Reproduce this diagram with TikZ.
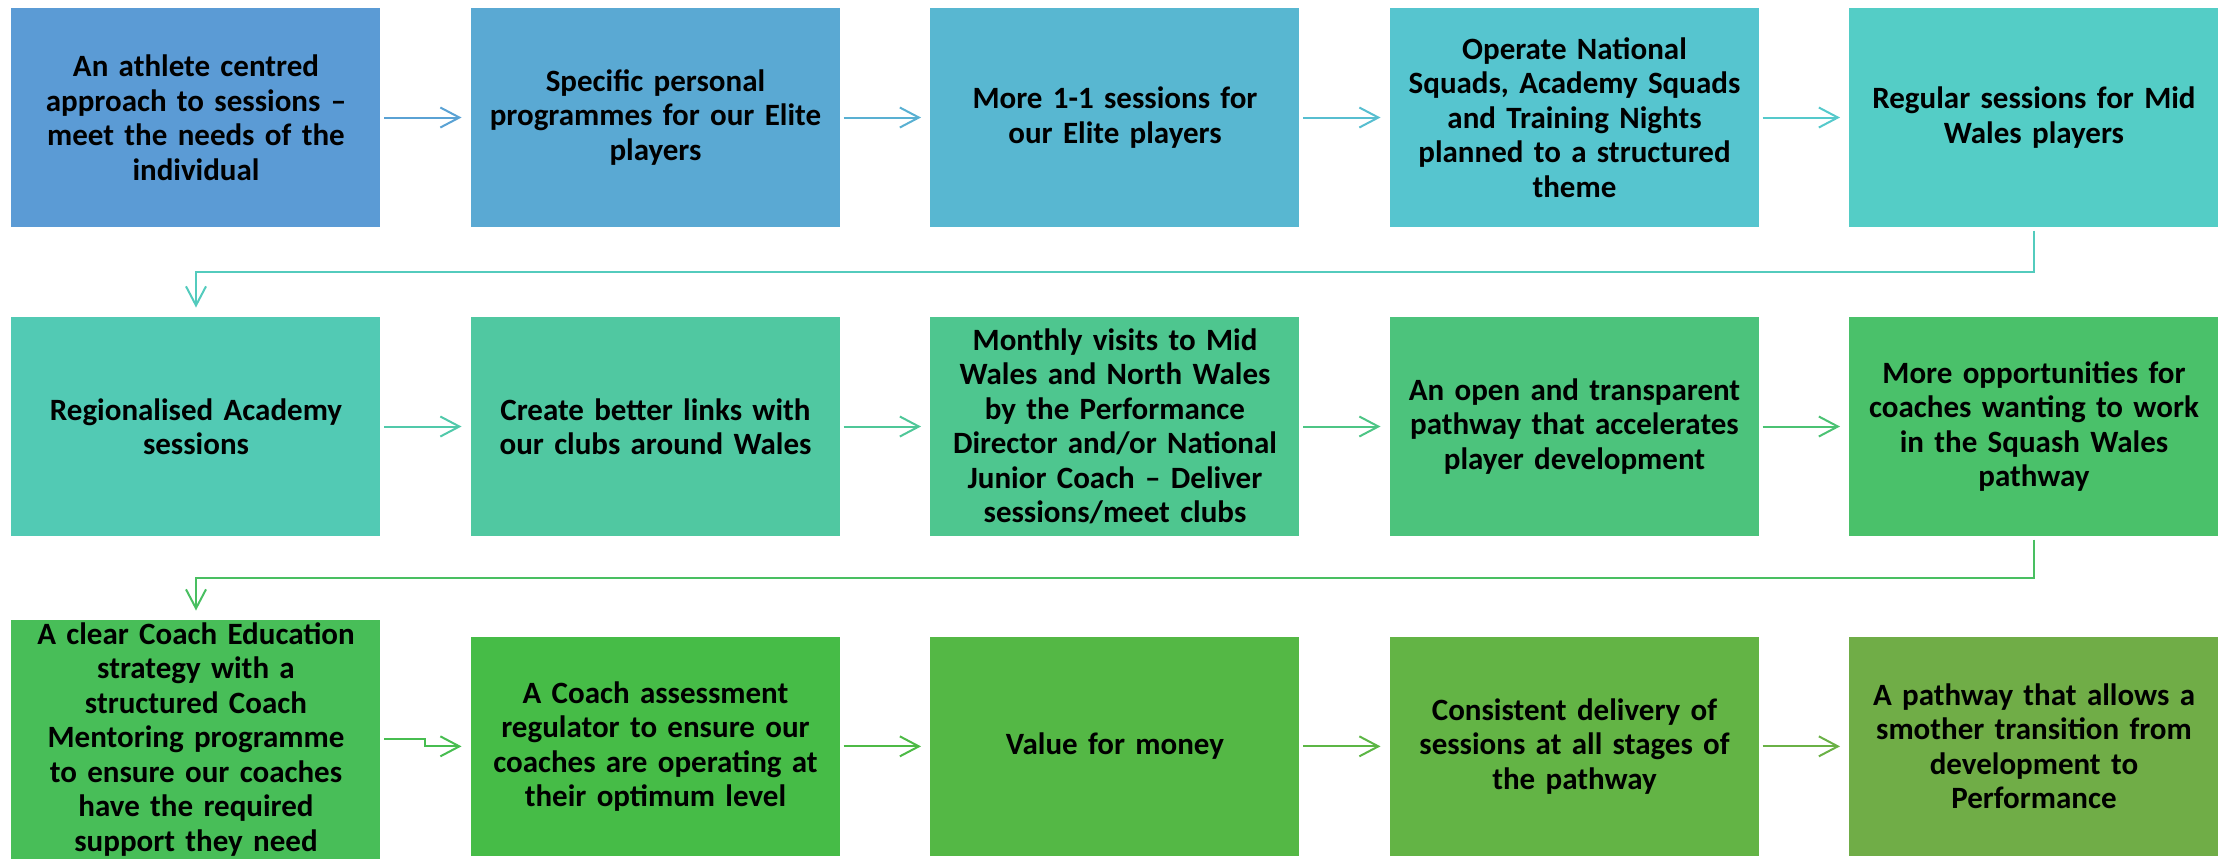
\documentclass[tikz,border=0pt]{standalone}
\usepackage{fontspec}
\setmainfont{Carlito}
\usepackage{tikz}
\usetikzlibrary{matrix,arrows.meta}
\newcommand*\boxwd {185pt}
\newcommand*\boxht {110pt}
\newcommand*\boxgap{44.25pt}
\definecolor{tone1}{HTML}{5B9BD5}
\definecolor{tone2}{HTML}{5AA9D3}
\definecolor{tone3}{HTML}{58B7D1}
\definecolor{tone4}{HTML}{56C5CF}
\definecolor{tone5}{HTML}{54CDC6}
\definecolor{tone6}{HTML}{52CAB4}
\definecolor{tone7}{HTML}{50C8A1}
\definecolor{tone8}{HTML}{4EC68F}
\definecolor{tone9}{HTML}{4CC37C}
\definecolor{tone10}{HTML}{4AC16A}
\definecolor{tone11}{HTML}{48BE58}
\definecolor{tone12}{HTML}{46BC47}
\definecolor{tone13}{HTML}{54B845}
\definecolor{tone14}{HTML}{63B445}
\definecolor{tone15}{HTML}{70AD47}
\tikzset{
    box/.style   = {rectangle, draw=white, line width=0.5pt,
                    minimum width=\boxwd, minimum height=\boxht,
                    text width=\boxwd-8pt, align=center,
                    inner xsep=4pt, inner ysep=1.5pt, anchor=center,
                    font=\fontsize{15.5pt}{17.25pt}\selectfont\bfseries},
    box1/.style  = {box,fill=tone1},
    box2/.style  = {box,fill=tone2},
    box3/.style  = {box,fill=tone3},
    box4/.style  = {box,fill=tone4},
    box5/.style  = {box,fill=tone5},
    box6/.style  = {box,fill=tone6},
    box7/.style  = {box,fill=tone7},
    box8/.style  = {box,fill=tone8},
    box9/.style  = {box,fill=tone9},
    box10/.style = {box,fill=tone10},
    box11/.style = {box,fill=tone11},
    box12/.style = {box,fill=tone12,yshift=-3.5pt},
    box13/.style = {box,fill=tone13,yshift=-3.5pt},
    box14/.style = {box,fill=tone14,yshift=-3.5pt},
    box15/.style = {box,fill=tone15,yshift=-3.5pt},
    flow/.style  = {line width=1pt, shorten <=1.5pt, shorten >=4.5pt,
                    -{Straight Barb[length=9.5pt,width=10pt]}},
    flowmatrix/.style = {
        matrix of nodes,
        inner sep=0pt, outer sep=0pt,
        nodes   = {box},
        column sep=\boxgap, row sep=44pt,
    },
  }
\begin{document}
\begin{tikzpicture}
    \useasboundingbox (0,0) rectangle (1109pt,-429.5pt);
    % the fifteen steps, five per row, named "plan"
    \matrix (plan) [flowmatrix, anchor=north west] at (5.25pt,-3.5pt) {
        % row 1
        |[box1]| {An athlete centred\\approach to sessions –\\meet the needs of the\\individual} &
        |[box2]| {Specific personal\\programmes for our Elite\\players} &
        |[box3]| {More 1-1 sessions for\\our Elite players} &
        |[box4]| {Operate National\\Squads, Academy Squads\\and Training Nights\\planned to a structured\\theme} &
        |[box5]| {Regular sessions for Mid\\Wales players} \\
        % row 2
        |[box6]| {Regionalised Academy\\sessions} &
        |[box7]| {Create better links with\\our clubs around Wales} &
        |[box8]| {Monthly visits to Mid\\Wales and North Wales\\by the Performance\\Director and/or National\\Junior Coach – Deliver\\sessions/meet clubs} &
        |[box9]| {An open and transparent\\pathway that accelerates\\player development} &
        |[box10]| {More opportunities for\\coaches wanting to work\\in the Squash Wales\\pathway} \\[-3pt]
        % row 3
        |[box11]| {A clear Coach Education\\strategy with a\\structured Coach\\Mentoring programme\\to ensure our coaches\\have the required\\support they need} &
        |[box12]| {A Coach assessment\\regulator to ensure our\\coaches are operating at\\their optimum level} &
        |[box13]| {Value for money} &
        |[box14]| {Consistent delivery of\\sessions at all stages of\\the pathway} &
        |[box15]| {A pathway that allows a\\smother transition from\\development to\\Performance} \\
    };

    % arrows inside the rows
    \foreach \r/\c/\k in {1/1/1,1/2/2,1/3/3,1/4/4,2/1/6,2/2/7,2/3/8,2/4/9,3/2/12,3/3/13,3/4/14} {
        \pgfmathtruncatemacro\n{\c+1}
        \pgfmathtruncatemacro\m{\k+1}
        \draw[flow, draw=tone\k!50!tone\m] (plan-\r-\c) -- (plan-\r-\n);
    }

    % bends from one row down to the next
    \draw[flow, draw=tone5!50!tone6] (plan-1-5.south) -- ++(0,-22pt) -| (plan-2-1.north);
    \draw[flow, draw=tone10!50!tone11] (plan-2-5.south) -- ++(0,-20.5pt) -| (plan-3-1.north);
    \draw[flow, draw=tone11!50!tone12] (plan-3-1.east) -- ++(\boxgap/2,0) |- (plan-3-2.west);
\end{tikzpicture}
\end{document}
